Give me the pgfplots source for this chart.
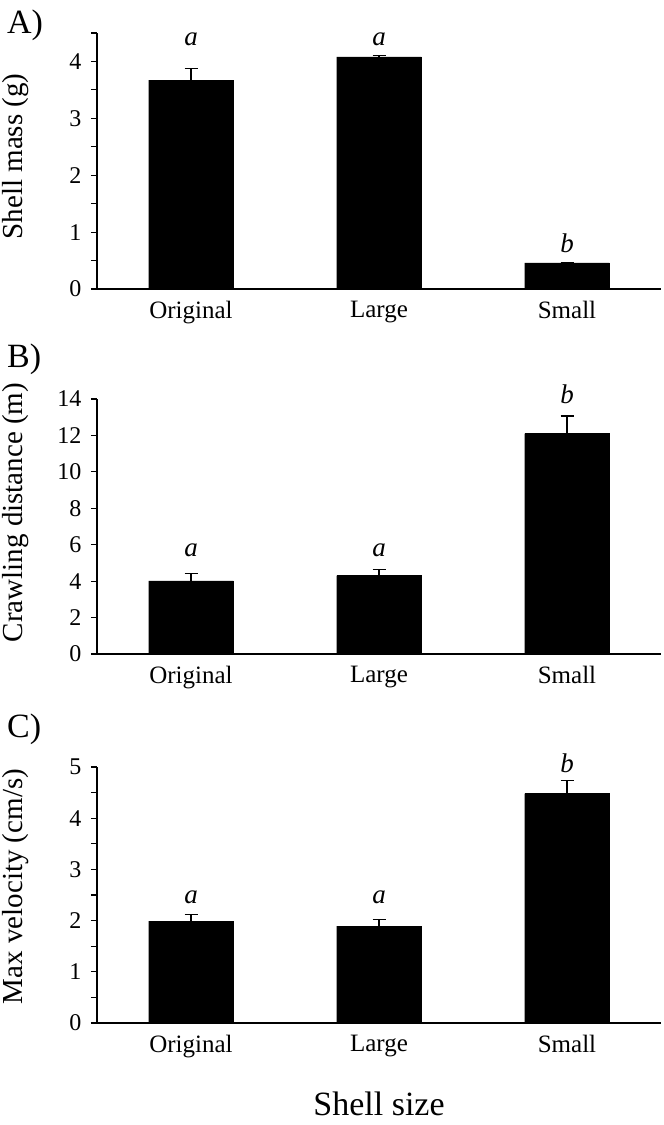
\documentclass[border=0pt]{standalone}
\usepackage{fontspec}
\setmainfont{Liberation Serif}
\usepackage{pgfplots}
\pgfplotsset{compat=1.18}

\pgfplotsset{
  panel/.style={
    scale only axis, width=564pt, height=256pt,
    xmin=0.5, xmax=3.5, ymin=0,
    clip=false,
    axis x line=bottom, axis y line=left,
    axis line style={-, line width=1.3pt, black},
    xtick={1,2,3}, xticklabels={Original,Large,Small},
    x tick style={draw=none},
    tick align=outside,
    y tick style={line width=1.1pt, black},
    major tick length=6pt, minor tick length=6pt,
    tick label style={font=\fontsize{25}{25}\selectfont},
    yticklabel style={font=\fontsize{24}{24}\selectfont, xshift=-6pt},
    xticklabel style={yshift=-3pt},
    /pgf/number format/assume math mode=true,
    ylabel style={font=\fontsize{29}{29}\selectfont, anchor=center},
  },
  barstyle/.style={
    ybar, fill=black, draw=black, bar width=0.45,
    error bars/.cd, y dir=plus, y explicit,
    error bar style={line width=1.3pt, black},
    error mark options={rotate=90, mark size=6.5pt, line width=1.3pt, black},
  },
}
\tikzset{sig/.style={font=\fontsize{27}{27}\selectfont\itshape, anchor=base}}

\begin{document}
\begin{tikzpicture}
\useasboundingbox (0,0) rectangle (664pt,-1125pt);

% A) shell mass
\begin{axis}[panel, at={(97pt,-289pt)}, anchor=origin,
  ymax=4.5, ytick={0,1,2,3,4}, minor ytick={0.5,1.5,2.5,3.5,4.5},
  ylabel={Shell mass (g)},
  ylabel style={at={(axis description cs:-0.1445,0.518)}}]
  \addplot[barstyle] coordinates {(1,3.67) +- (0,0.21) (2,4.08) +- (0,0.02) (3,0.46) +- (0,0.01)};
  \node[sig] at (axis cs:1,4.28) {a};
  \node[sig] at (axis cs:2,4.28) {a};
  \node[sig] at (axis cs:3,0.65) {b};
\end{axis}

% B) crawling distance
\begin{axis}[panel, at={(97pt,-654pt)}, anchor=origin,
  height=255pt,
  ymax=14, ytick={0,2,4,6,8,10,12,14},
  ylabel={Crawling distance (m)},
  ylabel style={at={(axis description cs:-0.1445,0.555)}}]
  \addplot[barstyle] coordinates {(1,4.02) +- (0,0.40) (2,4.30) +- (0,0.35) (3,12.10) +- (0,0.97)};
  \node[sig] at (axis cs:1,5.33) {a};
  \node[sig] at (axis cs:2,5.33) {a};
  \node[sig] at (axis cs:3,13.77) {b};
\end{axis}

% C) max velocity
\begin{axis}[panel, at={(97pt,-1023pt)}, anchor=origin,
  ymax=5, ytick={0,1,2,3,4,5}, minor ytick={0.5,1.5,2.5,3.5,4.5},
  ylabel={Max velocity (cm/s)},
  ylabel style={at={(axis description cs:-0.1445,0.533)}}]
  \addplot[barstyle] coordinates {(1,1.99) +- (0,0.13) (2,1.89) +- (0,0.13) (3,4.48) +- (0,0.26)};
  \node[sig] at (axis cs:1,2.34) {a};
  \node[sig] at (axis cs:2,2.34) {a};
  \node[sig] at (axis cs:3,4.89) {b};
\end{axis}

% panel letters and shared axis title
\node[font=\fontsize{34}{34}\selectfont, anchor=base west, inner sep=0pt] at (7pt,-33pt) {A)};
\node[font=\fontsize{34}{34}\selectfont, anchor=base west, inner sep=0pt] at (7pt,-367pt) {B)};
\node[font=\fontsize{34}{34}\selectfont, anchor=base west, inner sep=0pt] at (7pt,-737pt) {C)};
\node[font=\fontsize{34}{34}\selectfont, anchor=base, inner sep=0pt] at (379pt,-1115pt) {Shell size};
\end{tikzpicture}
\end{document}
